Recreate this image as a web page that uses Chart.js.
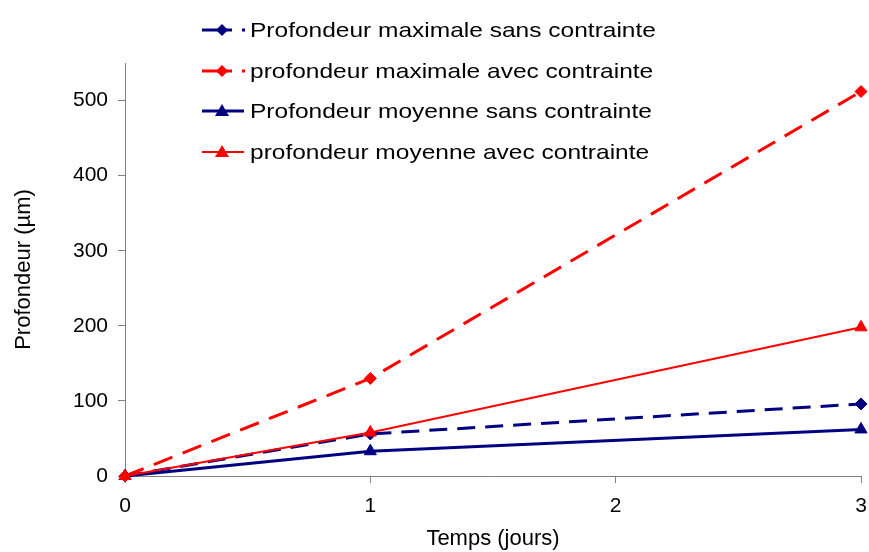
<!DOCTYPE html>
<html>
<head>
<meta charset="utf-8">
<script src="https://cdn.jsdelivr.net/npm/chart.js@4"></script>
<style>
  body { margin: 0; background: #fff; }
  #wrap { position: relative; width: 869px; height: 552px; }
  #legend { position: absolute; left: 200px; top: 10px; font-family: "Liberation Sans", Arial, sans-serif; font-size: 21px; color: #000; }
  .item { display: flex; align-items: center; height: 40.5px; }
  .item svg { width: 48px; height: 20px; margin-right: 2px; }
  .item span { display: inline-block; transform: scaleX(1.167); transform-origin: left center; white-space: nowrap; }
</style>
</head>
<body>
<div id="wrap">
  <canvas id="chart" width="869" height="552"></canvas>
  <div id="legend"></div>
</div>
<script>
// jours
const days = [0, 1, 3]
// profondeurs en µm
const maxSans = [0, 56, 96]
const maxAvec = [0, 130, 512]
const moySans = [0, 33, 62]
const moyAvec = [0, 58, 198]

const seriesNames = [
  'Profondeur maximale sans contrainte',
  'profondeur maximale avec contrainte',
  'Profondeur moyenne sans contrainte',
  'profondeur moyenne avec contrainte'
]

const NAVY = '#000080'
const RED = '#ff0000'
const GREY = '#808080'
const FONT = '"Liberation Sans", Arial, sans-serif'

function pts(values) {
  return days.map((d, i) => ({ x: d, y: values[i] }))
}

const datasets = [
  { label: seriesNames[0], data: pts(maxSans), borderColor: NAVY, backgroundColor: NAVY, borderWidth: 3,
    borderDash: [18, 10], pointStyle: 'rectRot', pointRadius: 6, order: 4 },
  { label: seriesNames[1], data: pts(maxAvec), borderColor: RED, backgroundColor: RED, borderWidth: 3,
    borderDash: [20, 11], pointStyle: 'rectRot', pointRadius: 6, order: 3 },
  { label: seriesNames[2], data: pts(moySans), borderColor: NAVY, backgroundColor: NAVY, borderWidth: 3,
    pointStyle: 'triangle', pointRadius: 7, order: 2 },
  { label: seriesNames[3], data: pts(moyAvec), borderColor: RED, backgroundColor: RED, borderWidth: 2,
    pointStyle: 'triangle', pointRadius: 7, order: 1 }
]
datasets.forEach(ds => {
  ds.pointBorderWidth = 1
  ds.pointBorderColor = ds.borderColor
  ds.tension = 0
  ds.clip = false
})

new Chart(document.getElementById('chart'), {
  type: 'line',
  data: { datasets },
  options: {
    responsive: false,
    animation: false,
    layout: { padding: { top: 63, right: 7, left: 0, bottom: 0 } },
    plugins: { legend: { display: false }, tooltip: { enabled: false } },
    scales: {
      x: {
        type: 'linear', min: 0, max: 3,
        ticks: { stepSize: 1, color: '#000', font: { family: FONT, size: 21 }, padding: 11 },
        grid: { drawOnChartArea: false, tickLength: 7, color: GREY },
        border: { color: GREY, width: 1 },
        title: { display: true, text: 'Temps (jours)', color: '#000', font: { family: FONT, size: 22 }, padding: { top: 5, bottom: 0 } },
        afterFit: scale => {
          scale.height = 76
          scale.paddingLeft = 0
          scale.paddingRight = 0
        }
      },
      y: {
        min: 0, max: 550,
        ticks: { stepSize: 100, color: '#000', font: { family: FONT, size: 21 }, padding: 10 },
        afterBuildTicks: scale => { scale.ticks = scale.ticks.filter(t => t.value % 100 === 0) },
        grid: { drawOnChartArea: false, tickLength: 7, color: GREY },
        border: { color: GREY, width: 1 },
        title: { display: true, text: 'Profondeur (µm)', color: '#000', font: { family: FONT, size: 22 }, padding: { top: 11, bottom: 0 } },
        afterFit: scale => {
          scale.width = 125
          scale.paddingTop = 0
          scale.paddingBottom = 0
        }
      }
    }
  }
})

// légende verticale façon Excel
const legendEl = document.getElementById('legend')
datasets.forEach(ds => {
  const c = ds.borderColor
  const dashed = !!ds.borderDash
  let line, marker
  if (dashed) {
    line = `<line x1="2" y1="10" x2="32" y2="10" stroke="${c}" stroke-width="3"/>` +
           `<rect x="42" y="8.5" width="3" height="3" fill="${c}"/>`
    marker = `<polygon points="22,4 28,10 22,16 16,10" fill="${c}"/>`
  } else {
    line = `<line x1="2" y1="10" x2="44" y2="10" stroke="${c}" stroke-width="${ds.borderWidth}"/>`
    marker = `<polygon points="22,3 29,15 15,15" fill="${c}"/>`
  }
  const item = document.createElement('div')
  item.className = 'item'
  item.innerHTML = `<svg viewBox="0 0 48 20">${line}${marker}</svg><span>${ds.label}</span>`
  legendEl.appendChild(item)
})
</script>
</body>
</html>
